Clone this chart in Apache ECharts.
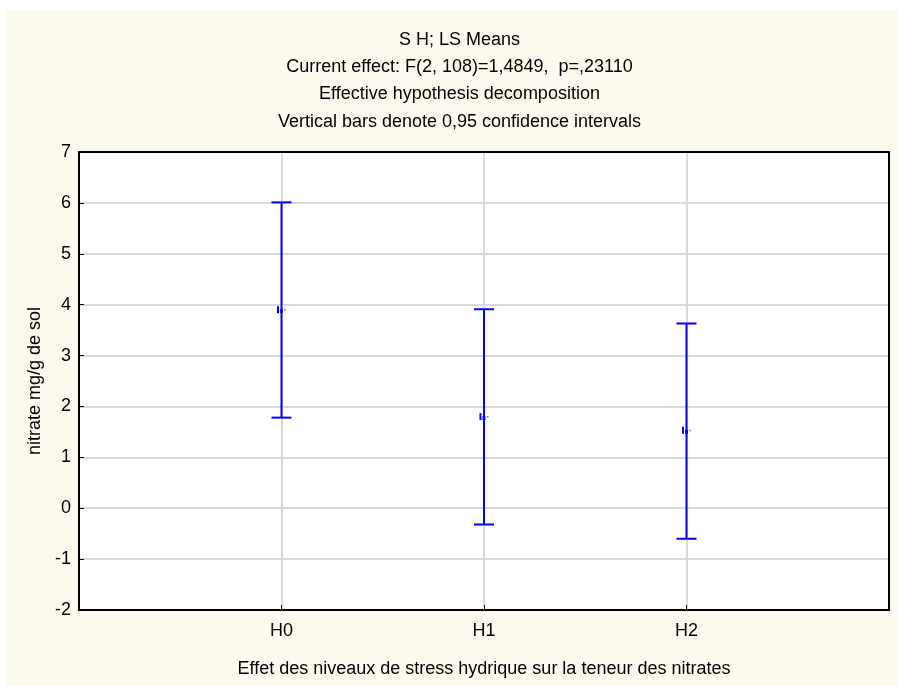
<!DOCTYPE html>
<html>
<head>
<meta charset="utf-8">
<script src="https://cdn.jsdelivr.net/npm/echarts@6/dist/echarts.min.js"></script>
<style>
  html, body { margin: 0; padding: 0; background: #ffffff; }
  #chart { width: 898px; height: 686px; }
</style>
</head>
<body>
<div id="chart"></div>
<script>
// Stress levels (padded with blanks so the groups sit on the inner grid lines)
const categories = ['', 'H0', 'H1', 'H2', ''];
const groupNames = ['H0', 'H1', 'H2'];
// LS means and 95% confidence limits of nitrate (mg/g de sol)
const means = [3.90, 1.80, 1.53];
const lowerCI = [1.78, -0.32, -0.60];
const upperCI = [6.01, 3.91, 3.63];
const yTicks = [-2, -1, 0, 1, 2, 3, 4, 5, 6, 7];

const titleLines = [
  'S H; LS Means',
  'Current effect: F(2, 108)=1,4849,  p=,23110',
  'Effective hypothesis decomposition',
  'Vertical bars denote 0,95 confidence intervals'
];

const FONT = 'Liberation Sans, Arial, sans-serif';
const FS = 18;
const BLUE = '#0000ff';

const errData = groupNames.map((g, i) => [categories.indexOf(g), lowerCI[i], upperCI[i], means[i]]);

function renderErr(params, api) {
  const x = api.value(0);
  const lo = api.coord([x, api.value(1)]);
  const hi = api.coord([x, api.value(2)]);
  const mid = api.coord([x, api.value(3)]);
  const cap = 10;
  const st = { stroke: BLUE, lineWidth: 2 };
  return {
    type: 'group',
    children: [
      { type: 'line', shape: { x1: lo[0], y1: lo[1], x2: hi[0], y2: hi[1] }, style: st },
      { type: 'line', shape: { x1: hi[0] - cap, y1: hi[1], x2: hi[0] + cap, y2: hi[1] }, style: st },
      { type: 'line', shape: { x1: lo[0] - cap, y1: lo[1], x2: lo[0] + cap, y2: lo[1] }, style: st },
      // mean marker
      { type: 'rect', shape: { x: mid[0] - 4.5, y: mid[1] - 3.5, width: 2, height: 7 }, style: { fill: BLUE } },
      { type: 'rect', shape: { x: mid[0] - 1.5, y: mid[1] - 0.5, width: 3, height: 4 }, style: { fill: BLUE } },
      { type: 'rect', shape: { x: mid[0] + 3, y: mid[1] - 0.5, width: 1.5, height: 1.5 }, style: { fill: '#6a6aff' } }
    ]
  };
}

const frameLine = { show: true, onZero: false, lineStyle: { color: '#000', width: 2 } };

const chart = echarts.init(document.getElementById('chart'), null, { renderer: 'canvas' });
chart.setOption({
  backgroundColor: '#ffffff',
  animation: false,
  graphic: [
    { type: 'rect', z: -10, silent: true, shape: { x: 6, y: 10, width: 900, height: 700 }, style: { fill: '#fdf9ef' } },
    {
      type: 'text', x: 459.5, y: 26, style: {
        text: titleLines.join('\n'), textAlign: 'center', textVerticalAlign: 'top',
        fill: '#000', font: FS + 'px ' + FONT, lineHeight: 27.3
      }
    }
  ],
  grid: { left: 79, top: 152, right: 9, bottom: 76, show: true, backgroundColor: '#ffffff', borderWidth: 0 },
  xAxis: [{
    type: 'category',
    data: categories,
    boundaryGap: false,
    name: 'Effet des niveaux de stress hydrique sur la teneur des nitrates',
    nameLocation: 'middle',
    nameGap: 50,
    nameTextStyle: { color: '#000', fontFamily: FONT, fontSize: FS },
    axisLine: frameLine,
    axisTick: { show: true, inside: true, length: 5, interval: 0, lineStyle: { color: '#000' } },
    axisLabel: { color: '#000', fontFamily: FONT, fontSize: FS, margin: 12, interval: 0 },
    splitLine: { show: true, interval: 0, lineStyle: { color: '#dadada', width: 2 } }
  }, {
    type: 'category',
    data: categories,
    boundaryGap: false,
    position: 'top',
    axisLine: frameLine,
    axisTick: { show: false },
    axisLabel: { show: false },
    splitLine: { show: false }
  }],
  yAxis: [{
    type: 'value',
    min: yTicks[0],
    max: yTicks[yTicks.length - 1],
    interval: 1,
    name: 'nitrate mg/g de sol',
    nameLocation: 'middle',
    nameGap: 35,
    nameTextStyle: { color: '#000', fontFamily: FONT, fontSize: FS },
    axisLine: frameLine,
    axisTick: { show: true, inside: true, length: 5, lineStyle: { color: '#000' } },
    axisLabel: { color: '#000', fontFamily: FONT, fontSize: FS, margin: 8 },
    splitLine: { show: true, lineStyle: { color: '#dadada', width: 2 } }
  }, {
    type: 'value',
    min: yTicks[0],
    max: yTicks[yTicks.length - 1],
    interval: 1,
    position: 'right',
    axisLine: frameLine,
    axisTick: { show: false },
    axisLabel: { show: false },
    splitLine: { show: false }
  }],
  series: [{
    type: 'custom',
    renderItem: renderErr,
    data: errData,
    encode: { x: 0, y: [1, 2, 3] },
    z: 10
  }]
});
</script>
</body>
</html>
